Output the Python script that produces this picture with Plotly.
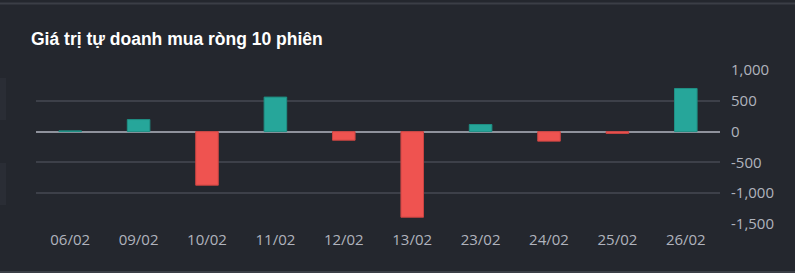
import plotly.graph_objects as go

dates = ["06/02", "09/02", "10/02", "11/02", "12/02", "13/02", "23/02", "24/02", "25/02", "26/02"]
values = [12, 195, -870, 560, -140, -1390, 115, -155, -30, 700]
tick_vals = [1000, 500, 0, -500, -1000, -1500]
tick_text = ["1,000", "500", "0", "-500", "-1,000", "-1,500"]

UP = "#26a69a"
DOWN = "#ef5350"
BG = "#24272e"
colors = [UP if v >= 0 else DOWN for v in values]
edge = ["#1f8f84" if v >= 0 else "#c94442" for v in values]

W, H = 795, 273
ML, MR, MT, MB = 36, 75, 70, 49
PW, PH = W - ML - MR, H - MT - MB

def px_x(x):
    return (x - ML) / PW

def px_y(y):
    return (H - MB - y) / PH

fig = go.Figure(go.Bar(
    x=dates, y=values,
    marker=dict(color=colors, line=dict(color=edge, width=1)),
    width=0.33,
))

shapes = [
    dict(type="rect", xref="paper", yref="paper", x0=px_x(-5), x1=px_x(800), y0=px_y(4.5), y1=px_y(2.5),
         fillcolor="#3b3e46", line=dict(width=0), layer="below"),
    dict(type="rect", xref="paper", yref="paper", x0=px_x(-5), x1=px_x(800), y0=px_y(273), y1=px_y(271),
         fillcolor="#3b3e46", line=dict(width=0), layer="below"),
    dict(type="rect", xref="paper", yref="paper", x0=px_x(0), x1=px_x(6), y0=px_y(120), y1=px_y(78),
         fillcolor="#2a2d35", line=dict(width=0), layer="below"),
    dict(type="rect", xref="paper", yref="paper", x0=px_x(0), x1=px_x(6), y0=px_y(205), y1=px_y(163),
         fillcolor="#2a2d35", line=dict(width=0), layer="below"),
]

fig.update_layout(
    width=W, height=H,
    margin=dict(l=ML, r=MR, t=MT, b=MB, pad=0),
    paper_bgcolor=BG, plot_bgcolor=BG,
    showlegend=False,
    title=dict(text="<b>Giá trị tự doanh mua ròng 10 phiên</b>",
               x=31 / W, xanchor="left", xref="container",
               y=1 - 33 / H, yanchor="top", yref="container",
               font=dict(family="Liberation Sans, Arial, sans-serif", size=17.5, color="#ffffff")),
    font=dict(family="Open Sans, sans-serif", size=15, color="#b0b3bd"),
    xaxis=dict(showgrid=False, showline=False, zeroline=False, ticks="",
               ticklabelstandoff=5,
               tickfont=dict(size=15, color="#b0b3bd"), fixedrange=True),
    yaxis=dict(side="right", range=[-1500, 1000], tickvals=tick_vals, ticktext=tick_text,
               showgrid=True, gridcolor="#3d4049", gridwidth=1.5,
               zeroline=True, zerolinecolor="#8f929c", zerolinewidth=2,
               showline=False, ticks="", ticklabelstandoff=10,
               tickfont=dict(size=15, color="#b0b3bd"), fixedrange=True),
    shapes=shapes,
)

fig.write_html("out.html")
